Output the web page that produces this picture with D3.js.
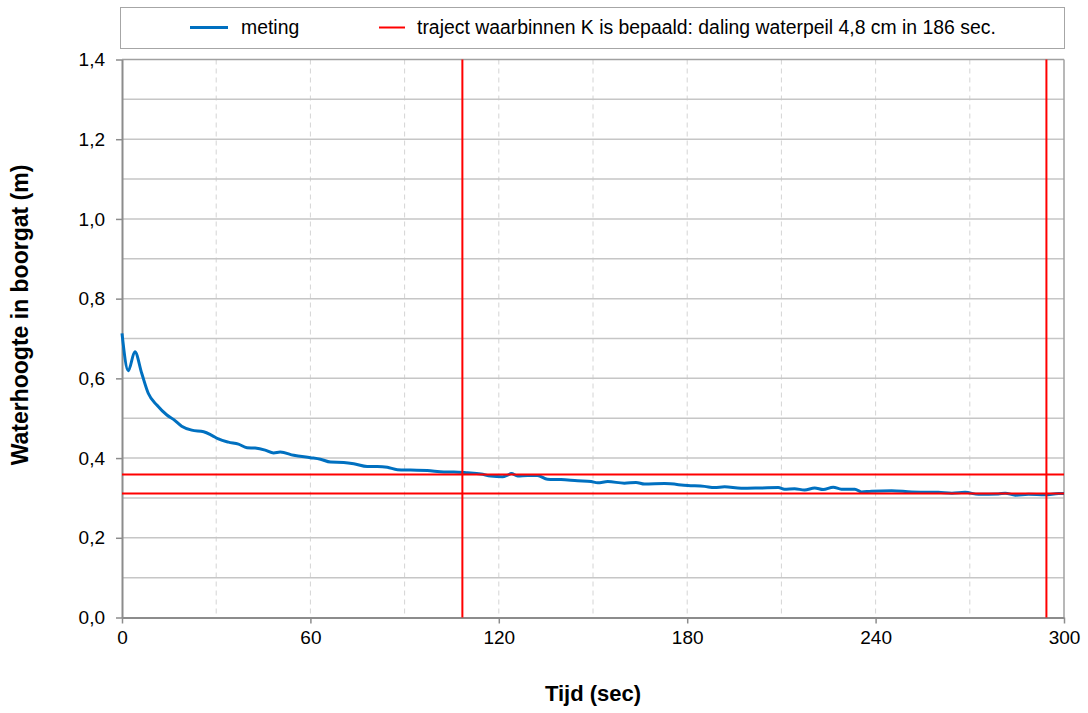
<!DOCTYPE html>
<html lang="nl">
<head>
<meta charset="UTF-8">
<title>Waterhoogte in boorgat</title>
<script src="https://cdn.jsdelivr.net/npm/d3@7"></script>
<style>
  body { margin: 0; background: #fff; }
  text { font-family: "Liberation Sans", Arial, sans-serif; fill: #000; }
</style>
</head>
<body>
<div id="chart"></div>
<script>
// meting: tijd (sec) en waterhoogte (m)
var tijd = [0, 2.0, 4.1, 6.3, 8.4, 11.1, 14.3, 16.4, 19.0, 22.2, 26.0, 28.6, 30.7, 33.9, 37.1, 39.8, 42.4, 45.6,
  48.3, 50.4, 54.7, 60.0, 63.2, 66.4, 70.6, 73.8, 78.1, 81.3, 84.5, 87.7, 91.9, 97.2, 102.5, 105.7, 110.0,
  114.3, 117.4, 121.2, 122.8, 124.0, 126.0, 129.2, 132.3, 135.5, 139.8, 145.1, 149.4, 151.5, 154.7, 160.0,
  163.7, 166.4, 172.8, 180.2, 185.5, 188.7, 191.9, 197.2, 203.6, 209.0, 211.0, 214.2, 217.4, 220.6, 223.3,
  226.5, 229.1, 233.4, 235.5, 238.7, 245.1, 251.5, 260.0, 264.3, 268.5, 272.8, 279.1, 281.3, 284.5, 288.7,
  294.0, 298.3, 300.0];
var hoogte = [0.713, 0.619, 0.667, 0.612, 0.562, 0.533, 0.508, 0.497, 0.480, 0.470, 0.466, 0.457, 0.448, 0.440, 0.435, 0.426, 0.425, 0.420,
  0.413, 0.415, 0.407, 0.401, 0.397, 0.390, 0.389, 0.386, 0.379, 0.379, 0.377, 0.371, 0.370, 0.369, 0.365, 0.365, 0.363,
  0.360, 0.355, 0.353, 0.357, 0.361, 0.355, 0.356, 0.356, 0.347, 0.346, 0.343, 0.341, 0.338, 0.341, 0.337,
  0.339, 0.335, 0.336, 0.331, 0.329, 0.326, 0.328, 0.324, 0.325, 0.326, 0.322, 0.323, 0.320, 0.325, 0.321,
  0.327, 0.322, 0.322, 0.315, 0.317, 0.318, 0.315, 0.314, 0.312, 0.314, 0.309, 0.310, 0.312, 0.307, 0.309,
  0.308, 0.311, 0.311];

// traject waarbinnen K is bepaald
var trajectTijd = [108.4, 294.4];
var trajectHoogte = [0.359, 0.311];

var xTicks = [0, 60, 120, 180, 240, 300];
var xGrid = [30, 60, 90, 120, 150, 180, 210, 240, 270];
var yTicks = [0, 0.2, 0.4, 0.6, 0.8, 1.0, 1.2, 1.4];
var yGrid = [0.1, 0.2, 0.3, 0.4, 0.5, 0.6, 0.7, 0.8, 0.9, 1.0, 1.1, 1.2, 1.3];

var width = 1088, height = 713;
var margin = {top: 60, right: 24, bottom: 96, left: 122};

var svg = d3.select("#chart").append("svg")
  .attr("width", width)
  .attr("height", height);

var x = d3.scaleLinear().domain([0, 300]).range([margin.left, width - margin.right]);
var y = d3.scaleLinear().domain([0, 1.4]).range([height - margin.bottom + 0.5, margin.top - 0.5]);

var fmt = function(d) { return d3.format(".1f")(d).replace(".", ","); };

// rasterlijnen
svg.append("g").selectAll("line").data(xGrid).enter().append("line")
  .attr("x1", function(d) { return x(d); }).attr("x2", function(d) { return x(d); })
  .attr("y1", y(1.4)).attr("y2", y(0))
  .attr("stroke", "#d4d4d4").attr("stroke-width", 1).attr("stroke-dasharray", "5,4");

svg.append("g").selectAll("line").data(yGrid).enter().append("line")
  .attr("x1", x(0)).attr("x2", x(300))
  .attr("y1", function(d) { return y(d); }).attr("y2", function(d) { return y(d); })
  .attr("stroke", "#c6c6c6").attr("stroke-width", 1.5);

// kader boven en rechts
svg.append("line").attr("x1", x(0)).attr("x2", x(300)).attr("y1", y(1.4)).attr("y2", y(1.4))
  .attr("stroke", "#a0a0a0").attr("stroke-width", 1.5);
svg.append("line").attr("x1", x(300)).attr("x2", x(300)).attr("y1", y(1.4)).attr("y2", y(0))
  .attr("stroke", "#a0a0a0").attr("stroke-width", 1.5);

// assen
var xAxis = svg.append("g")
  .attr("transform", "translate(0," + y(0) + ")")
  .call(d3.axisBottom(x).tickValues(xTicks).tickSize(6).tickSizeOuter(0).tickPadding(7));
var yAxis = svg.append("g")
  .attr("transform", "translate(" + x(0) + ",0)")
  .call(d3.axisLeft(y).tickValues(yTicks).tickFormat(fmt).tickSize(6).tickSizeOuter(0).tickPadding(11));

[xAxis, yAxis].forEach(function(a) {
  a.select(".domain").attr("stroke", "#8c8c8c").attr("stroke-width", 2);
  a.selectAll(".tick line").attr("stroke", "#8c8c8c").attr("stroke-width", 1.5);
  a.selectAll(".tick text").attr("font-size", 19).attr("font-family", "Liberation Sans, Arial, sans-serif").attr("fill", "#000");
});

// meting
var line = d3.line()
  .x(function(d, i) { return x(tijd[i]); })
  .y(function(d) { return y(d); })
  .curve(d3.curveMonotoneX);

svg.append("path").datum(hoogte)
  .attr("d", line)
  .attr("fill", "none")
  .attr("stroke", "#0070C0")
  .attr("stroke-width", 3)
  .attr("stroke-linejoin", "round");

// traject lijnen
svg.append("g").selectAll("line").data(trajectTijd).enter().append("line")
  .attr("x1", function(d) { return x(d); }).attr("x2", function(d) { return x(d); })
  .attr("y1", y(1.4)).attr("y2", y(0))
  .attr("stroke", "#ff0000").attr("stroke-width", 2);
svg.append("g").selectAll("line").data(trajectHoogte).enter().append("line")
  .attr("x1", x(0)).attr("x2", x(300))
  .attr("y1", function(d) { return y(d); }).attr("y2", function(d) { return y(d); })
  .attr("stroke", "#ff0000").attr("stroke-width", 2);

// as titels
svg.append("text")
  .attr("x", x(150)).attr("y", 701)
  .attr("text-anchor", "middle")
  .attr("font-size", 22).attr("font-weight", "bold")
  .text("Tijd (sec)");

svg.append("text")
  .attr("transform", "translate(28,315) rotate(-90)")
  .attr("text-anchor", "middle")
  .attr("font-size", 23).attr("font-weight", "bold")
  .text("Waterhoogte in boorgat (m)");

// legenda
var lg = svg.append("g");
lg.append("rect")
  .attr("x", 120.5).attr("y", 7.5).attr("width", 944).attr("height", 41)
  .attr("fill", "#fff").attr("stroke", "#a6a6a6").attr("stroke-width", 1);
lg.append("line").attr("x1", 190).attr("x2", 228).attr("y1", 27.5).attr("y2", 27.5)
  .attr("stroke", "#0070C0").attr("stroke-width", 3);
lg.append("text").attr("x", 241).attr("y", 34).attr("font-size", 19.4).text("meting");
lg.append("line").attr("x1", 379).attr("x2", 405).attr("y1", 27.5).attr("y2", 27.5)
  .attr("stroke", "#ff0000").attr("stroke-width", 2);
lg.append("text").attr("x", 417).attr("y", 34).attr("font-size", 19.4)
  .text("traject waarbinnen K is bepaald: daling waterpeil 4,8 cm in 186 sec.");
</script>
</body>
</html>
